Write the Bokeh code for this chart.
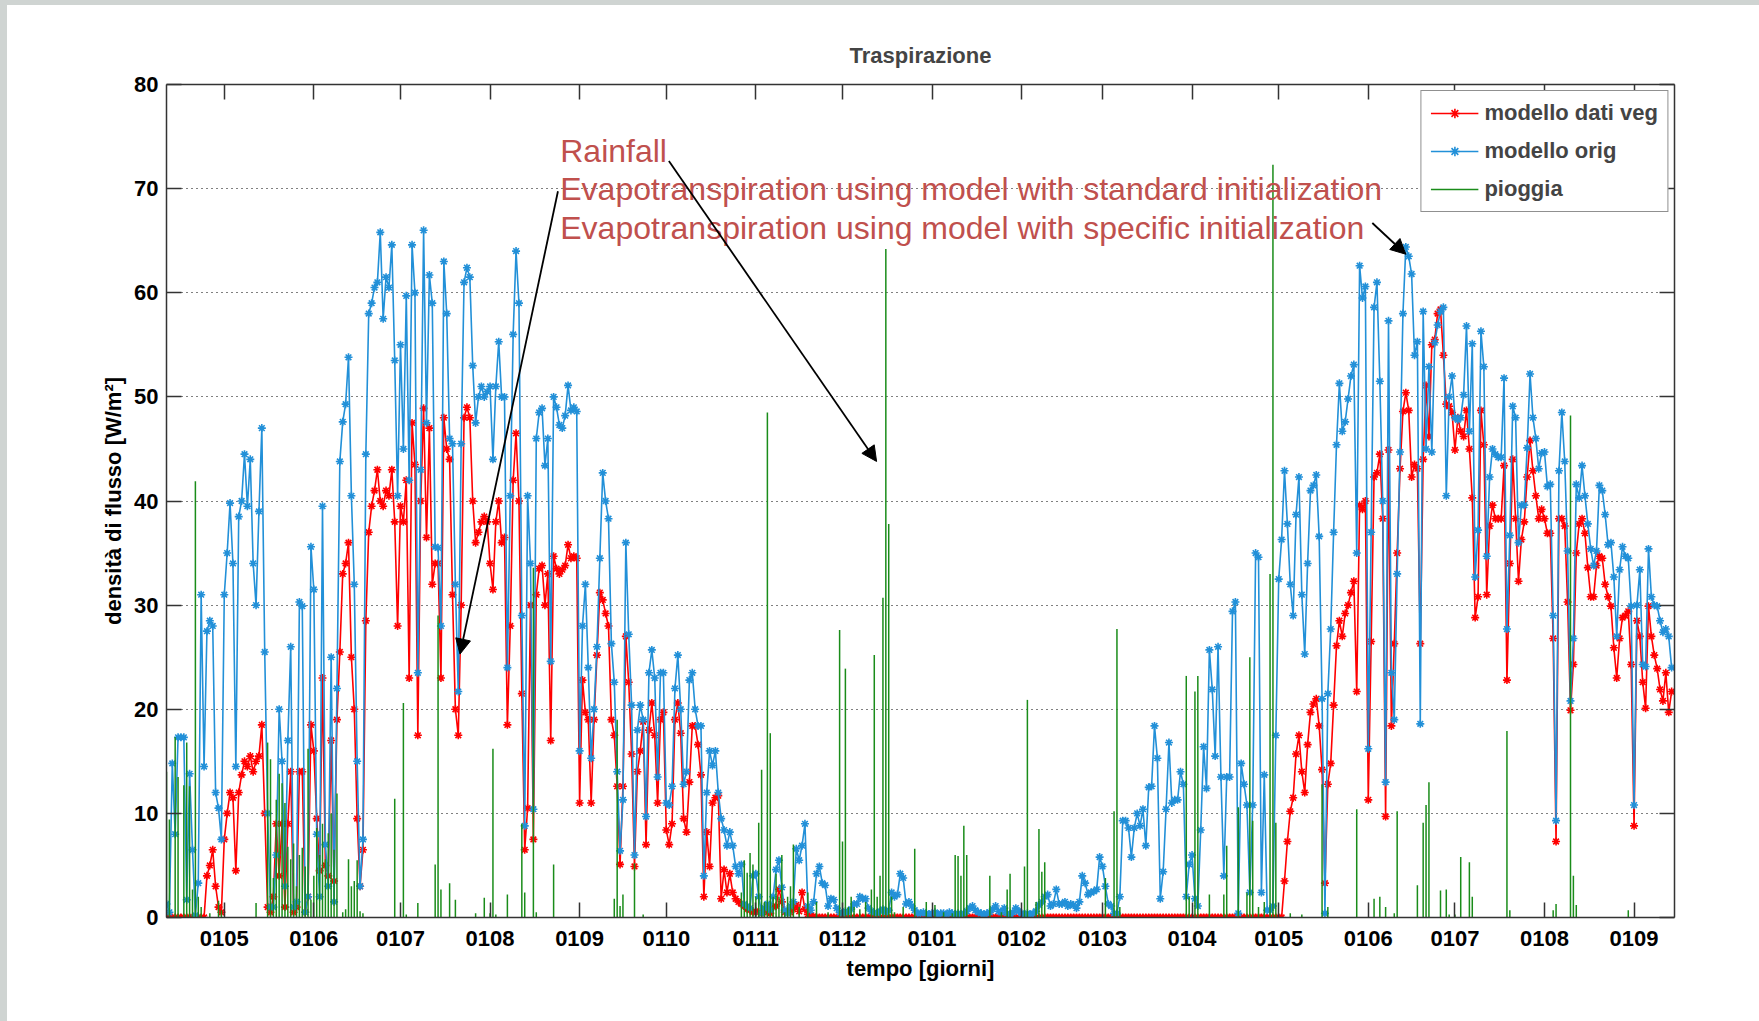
import pandas as pd
from bokeh.plotting import figure
from bokeh.models import (Range1d, MonthsTicker, DatetimeTickFormatter, DatetimeAxis, LinearAxis,
                          SingleIntervalTicker, Label, Arrow, NormalHead, Div, ColumnDataSource)
from bokeh.layouts import column, row
from bokeh.embed import file_html
from bokeh.resources import INLINE

# ---------------- data ----------------
START = "2006-04-11"          # first daily value
N_DAYS_SHOWN = 522            # x-range length in days

TITLE = "Traspirazione"
X_LABEL = "tempo [giorni]"
Y_LABEL = "densità di flusso [W/m²]"
SERIES_NAMES = ["modello dati veg", "modello orig", "pioggia"]
ANNOTATIONS = ["Rainfall",
               "Evapotranspiration using model with standard initialization",
               "Evapotranspiration using model with specific initialization"]

# modello orig (blue), daily
BLUE = [
    1.3, 0.5, 14.8, 8, 17.3, 17.3, 17.3, 1.7, 13.8, 6.5,
    0.2, 3.3, 31, 14.5, 27.5, 28.5, 28, 12, 10.5, 7.5,
    31, 35, 39.8, 34, 14.5, 38.5, 40, 44.5, 39.5, 44,
    34, 30, 39, 47, 25.5, 10, 1, 1, 6, 20,
    15, 3, 17, 26, 1, 1.5, 30.3, 29.9, 0.5, 2,
    35.6, 31.5, 8, 2, 39.5, 7, 3, 25, 1.5, 22,
    43.8, 47.6, 49.3, 53.8, 40.5, 32, 15, 3, 7.5, 44.5,
    58, 59, 60.5, 61, 65.8, 57.5, 61.5, 60.5, 64.6, 53.5,
    40.5, 55, 45, 59.7, 42, 64.6, 60, 23.5, 43, 66,
    47.5, 61.7, 59, 35.6, 35.5, 28, 63, 58, 46, 45.5,
    32, 21.7, 45.5, 61, 62.4, 61.5, 53, 47.5, 50, 51,
    50, 50.5, 51, 44, 51, 55.3, 50, 50, 24, 40.5,
    56, 64, 59, 29, 8.8, 40.5, 34, 10.4, 46, 48.5,
    48.9, 43.4, 46, 24.6, 50, 49, 47.3, 47, 48.2, 51.1,
    48.7, 49, 48.6, 16, 28, 32, 24, 15.3, 20, 26,
    34.5, 42.7, 40, 38.3, 26.3, 22.6, 14, 6.4, 11.3, 36,
    27.2, 20.4, 6, 18, 20.4, 19, 9.7, 23.5, 25.7, 23,
    13.5, 23.5, 23.5, 11, 10.8, 12.6, 22, 25.2, 20, 12.8,
    14, 22.8, 23.5, 20, 18.4, 18.4, 4, 12, 16, 14.6,
    16, 12, 9.5, 8.4, 6.9, 8.2, 6.9, 4.9, 4.2, 5.1,
    1.3, 1.1, 0.9, 4, 4.2, 2, 0.4, 0.9, 1.3, 0.7,
    2, 4.6, 5.5, 2.9, 0.7, 0.4, 1.1, 1.5, 6.6, 5.5,
    6.9, 9, 1.1, 0.7, 1.5, 4.2, 4.9, 3.3, 3.1, 1.1,
    1.8, 1.7, 0.9, 0.5, 0.4, 0.6, 0.5, 0.8, 1.3, 1.3,
    2, 1.8, 1.8, 0.9, 0.6, 0.5, 0.4, 0.6, 0.8, 0.5,
    0.7, 2.4, 2, 2.2, 4.2, 3.8, 1.3, 1.5, 1.1, 0.7,
    0.4, 0.4, 0.5, 0.4, 0.3, 0.4, 0.5, 0.3, 0.4, 0.4,
    0.3, 0.5, 0.4, 0.3, 0.4, 0.3, 0.4, 0.6, 0.9, 1.1,
    0.7, 0.5, 0.4, 0.3, 0.4, 0.5, 0.8, 1.1, 0.6, 0.5,
    0.9, 0.4, 0.3, 0.5, 0.9, 0.6, 0.4, 0.3, 0.4, 0.3,
    0.4, 0.6, 1.2, 1.5, 2, 2.2, 1.1, 1.3, 2.7, 1.3,
    1.3, 1.5, 1.1, 1.3, 1.2, 0.9, 1.5, 4, 3.3, 2.2,
    2.4, 2.5, 2.7, 5.8, 4.9, 3, 1.3, 1.1, 0.4, 0.4,
    2, 9.3, 9.3, 8.6, 5.8, 8.6, 10, 8.8, 10.4, 6.9,
    12.5, 12.6, 18.4, 15.3, 1.8, 4.4, 10.4, 16.8, 11, 11.3,
    11.3, 14, 12.8, 2, 5.1, 6, 1.8, 1.1, 8.4, 16.4,
    12.4, 25.7, 21.9, 15.5, 26, 13.5, 4, 13.5, 13.5, 29.4,
    30.3, 0.4, 14.8, 12.8, 10.8, 2.4, 10.8, 35, 34.6, 2.4,
    13.7, 0.7, 0.7, 1.1, 17.5, 32.5, 36.3, 42.9, 37.8, 32,
    29, 38.7, 42.3, 31, 25.3, 34, 41, 41.5, 42.5, 36.6,
    21, 0.4, 21.5, 27.7, 37, 45.4, 51.3, 46.7, 47.6, 49.8,
    52, 53.1, 35, 62.6, 59.5, 60.6, 16.2, 37, 58.6, 61,
    51.5, 40, 13, 57.3, 23.5, 19, 33, 44.7, 58, 64.4,
    63.5, 61.8, 54, 55.3, 18.6, 58.2, 45, 52.9, 44.7, 55.2,
    56.9, 58.2, 58.6, 40.5, 50, 52, 48, 47.8, 48, 50.2,
    56.8, 46.7, 55.1, 32.7, 37.2, 56.3, 52.9, 34.7, 42.3, 45,
    44.5, 44.2, 44.2, 51.8, 27.7, 36.7, 49.1, 48, 36, 39.6,
    39.6, 45.1, 52.2, 48, 46, 43.1, 44.6, 44.7, 41.4, 41.6,
    29, 9.3, 42.9, 48.5, 43.8, 35.2, 20.8, 26.8, 41.6, 40.3,
    43.4, 40.5, 37.8, 35.4, 33.8, 35.2, 41.5, 41, 38.7, 35.8,
    36, 32.7, 27, 33.4, 35.6, 34.7, 34.5, 29.9, 10.8, 30,
    33.4, 24.3, 24.1, 35.4, 30.8, 30, 29.9, 28.5, 27.4, 27.7,
    27, 24,
]

# modello dati veg (red), daily
RED = [
    0, 0, 0, 0, 0, 0, 0, 0, 0, 0,
    0, 0, 0, 0, 4, 5, 6.5, 3, 1, 0.5,
    7.5, 10, 12, 11.5, 4.5, 12, 13.7, 15, 14.5, 15.5,
    14, 15, 15.5, 18.5, 10, 1, 0.5, 2, 9, 4,
    9, 1, 9, 14, 0.5, 1, 14, 14, 0.5, 2,
    18.5, 16, 9.5, 4.5, 23, 5, 4, 17, 3.5, 19,
    25.5, 33, 34, 36, 25, 20, 9.5, 3, 6.5, 28.5,
    37, 39.5, 41, 43, 40, 39.5, 41, 40.5, 43, 38,
    28, 39.5, 38, 42, 23, 47.5, 43.5, 17.5, 40, 48.9,
    36.5, 47, 32, 34, 34, 23, 48, 45, 44, 31,
    20, 17.5, 30, 48, 49, 48, 40, 36, 37, 38,
    38.5, 38, 34, 31.5, 38, 40, 36, 36.5, 18.5, 28,
    42, 46.5, 40, 21.5, 6.5, 10.5, 30, 7.5, 31, 33.5,
    33.8, 30, 33, 17, 34.7, 33.5, 33, 33.4, 33.8, 35.8,
    34.5, 34.7, 34.5, 11, 22.8, 19.7, 19, 11, 19, 25.2,
    31.2, 30.5, 29.2, 28, 19, 17.5, 12.6, 5.1, 12.6, 27,
    22.6, 15.7, 4.9, 14, 16, 18.8, 7, 18, 20.6, 17.5,
    11, 19, 19.7, 8.4, 7, 9, 19, 20.6, 17.7, 9.5,
    8.2, 13, 18.4, 18.4, 16.6, 13.7, 2, 8.2, 4.9, 11,
    11.5, 11.7, 1.8, 4.6, 2.4, 4.2, 2.4, 1.8, 1.5, 1.3,
    1.1, 0.8, 0.7, 0.5, 0.6, 0.5, 0.4, 0.8, 0.5, 0.4,
    1, 1.1, 2.7, 1.5, 0.5, 0.6, 0.5, 0.8, 1.2, 0.6,
    2.4, 0.8, 0.3, 0.2, 0.1, 0, 0, 0, 0, 0,
    0, 0, 0, 0, 0, 0, 0, 0, 0, 0,
    0, 0, 0, 0, 0, 0, 0, 0, 0, 0,
    0, 0, 0, 0, 0, 0, 0, 0, 0, 0,
    0, 0, 0, 0, 0, 0, 0, 0, 0, 0,
    0, 0, 0, 0, 0, 0, 0, 0, 0, 0,
    0, 0, 0, 0, 0, 0, 0, 0, 0, 0,
    0, 0, 0, 0, 0, 0, 0, 0, 0, 0,
    0, 0, 0, 0, 0, 0, 0, 0, 0, 0,
    0, 0, 0, 0, 0, 0, 0, 0, 0, 0,
    0, 0, 0, 0, 0, 0, 0, 0, 0, 0,
    0, 0, 0, 0, 0, 0, 0, 0, 0, 0,
    0, 0, 0, 0, 0, 0, 0, 0, 0, 0,
    0, 0, 0, 0, 0, 0, 0, 0, 0, 0,
    0, 0, 0, 0, 0, 0, 0, 0, 0, 0,
    0, 0, 0, 0, 0, 0, 0, 0, 0, 0,
    0, 0, 0, 0, 0, 0, 0, 3.5, 7.3, 10.2,
    11.5, 15.7, 17.5, 14, 12, 16.6, 19.7, 20.5, 21, 18.4,
    14.2, 3.3, 12.8, 14.8, 20.4, 26.1, 28.5, 27, 29.2, 30,
    31.2, 32.3, 21.7, 39.6, 39.2, 40, 11.3, 26.5, 42.3, 42.7,
    44.5, 38.3, 9.7, 44.9, 18.4, 26.3, 35, 43.1, 48.6, 50.4,
    48.7, 42.3, 43.5, 43.1, 26.3, 44, 51.1, 46.2, 55, 55.5,
    58, 58.4, 54, 49.3, 49.1, 48.5, 44.9, 48, 46.7, 46.2,
    48.7, 45, 40.3, 28.8, 30.8, 48.7, 45.4, 31, 37.6, 39.6,
    38.3, 38.3, 38.3, 43.4, 22.8, 34, 44, 38.3, 32.3, 36.3,
    38, 42.3, 45.8, 42.9, 40.5, 38.3, 39.2, 38.3, 36.9, 36.9,
    26.8, 7.3, 38.3, 38.3, 37.6, 30.3, 19.9, 24.3, 35, 37.8,
    38.3, 36.9, 33.6, 30.8, 30.8, 33.8, 34.7, 34.5, 32, 30.8,
    29.9, 25.9, 23, 26.8, 28.8, 29, 29.4, 24.3, 8.8, 28.5,
    27, 22.6, 20.1, 29.9, 27, 25.2, 23.9, 21.9, 20.8, 23.5,
    19.7, 21.7,
]

# pioggia (green stems): day offset from START and value
RAIN_DAY = [0, 1, 3, 4, 6, 7, 8, 9, 10, 11, 12, 15, 18, 19, 31, 35, 36, 37, 38, 39,
            40, 41, 42, 43, 44, 45, 46, 47, 48, 49, 50, 51, 52, 53, 54, 55, 56, 57, 58, 59,
            61, 62, 63, 64, 65, 66, 67, 68, 79, 82, 83, 87, 93, 94, 95, 98, 100, 107, 110, 112,
            113, 114, 118, 123, 124, 127, 128, 134, 155, 156, 157, 158, 162, 165, 199, 200, 201, 202, 203, 204,
            205, 206, 207, 208, 209, 210, 211, 212, 213, 214, 215, 216, 217, 219, 222, 225, 229, 233, 234, 235,
            236, 237, 238, 240, 242, 244, 245, 246, 247, 248, 249, 250, 251, 252, 255, 259, 263, 266, 269, 272,
            273, 274, 275, 276, 277, 285, 289, 291, 292, 297, 298, 301, 302, 303, 304, 325, 328, 329, 330, 353,
            354, 356, 357, 361, 366, 367, 371, 374, 375, 376, 378, 380, 382, 383, 384, 389, 393, 400, 402, 412,
            418, 420, 422, 425, 426, 433, 435, 436, 437, 441, 443, 444, 446, 448, 451, 452, 464, 465, 480, 481,
            486, 487, 488, 506]
RAIN_MM = [14, 9.4, 17.3, 13.5, 12.7, 16.8, 12.6, 2.7, 41.9, 2, 1, 0.4, 1.6, 0.7, 1.4, 16.8, 15.2, 3.8, 11.3, 13.8,
           12.9, 11, 6.8, 5.6, 7.1, 3, 6, 6.7, 4.9, 16.2, 1.7, 4, 8.6, 6, 9, 5.6, 8.1, 10, 6.5, 11.9,
           0.5, 0.8, 5.6, 3, 3.5, 5.5, 0.6, 0.4, 11.4, 20.6, 0.3, 1.4, 5.1, 29, 2.7, 3.3, 1.7, 0.4, 1.9, 0.4,
           16.2, 0.3, 2.2, 9, 2.4, 33.6, 0.5, 5.1, 1.8, 19, 1.1, 2.2, 5.2, 0.3, 2.4, 5.5, 4.3, 6.2, 5.1, 2,
           9.1, 14.2, 1.5, 48.5, 17.7, 2, 4.2, 2, 6, 0.5, 2, 3, 7, 1, 2.4, 1.5, 0.5, 27.6, 7.3, 23.9,
           1, 2, 1, 0.8, 1.5, 2.7, 25.2, 2, 4, 30.7, 64.2, 37.8, 2, 0.5, 1, 6.6, 1.5, 1.2, 0.5, 0.4,
           6, 5.9, 4, 8.8, 6, 4, 0.5, 2.7, 4.2, 4.9, 20.9, 1.5, 8.5, 4.4, 5.3, 3.8, 10.2, 27.7, 1, 23.2,
           2, 21.7, 23.2, 2.2, 2.2, 6.9, 10.6, 2.4, 25, 9.3, 1, 1.5, 33, 72.3, 9.1, 0.4, 0.3, 12.8, 1, 10.4,
           1.8, 2, 1, 0.4, 10.2, 3.1, 9.1, 10.8, 13, 2.6, 2.7, 0.3, 0.3, 5.8, 5.3, 2, 17.9, 0.7, 0.7, 1.3,
           48.2, 4, 1.2, 0.7]

# ---------------- helpers ----------------
FONT = "Liberation Sans"
t0 = pd.Timestamp(START)


def xday(d):
    return (t0 + pd.Timedelta(days=d)).timestamp() * 1000.0


dates = pd.date_range(t0, periods=len(BLUE), freq="D")
src = ColumnDataSource(dict(x=dates, red=RED, blue=BLUE))
rain_src = ColumnDataSource(dict(x=[t0 + pd.Timedelta(days=d) for d in RAIN_DAY], y=RAIN_MM))

p = figure(width=1752, height=1016, x_axis_type="datetime",
           x_range=Range1d(t0, t0 + pd.Timedelta(days=N_DAYS_SHOWN)),
           y_range=Range1d(0, 80),
           output_backend="svg", toolbar_location=None,
           min_border_left=159, min_border_right=85, min_border_top=79, min_border_bottom=104)
p.background_fill_color = "white"
p.border_fill_color = "white"
p.outline_line_color = None

RED_C = "#ff0000"
BLUE_C = "#2290d8"
GREEN_C = "#1a8c1a"

p.line("x", "red", source=src, line_color=RED_C, line_width=1.6, legend_label=SERIES_NAMES[0])
p.scatter("x", "red", source=src, marker="asterisk", size=8, line_color=RED_C, line_width=1.6,
          legend_label=SERIES_NAMES[0])
p.line("x", "blue", source=src, line_color=BLUE_C, line_width=1.6, legend_label=SERIES_NAMES[1])
p.scatter("x", "blue", source=src, marker="asterisk", size=8, line_color=BLUE_C, line_width=1.6,
          legend_label=SERIES_NAMES[1])
p.segment(x0="x", y0=0, x1="x", y1="y", source=rain_src, line_color=GREEN_C, line_width=1.5,
          legend_label=SERIES_NAMES[2])

# ---------------- axes ----------------
AX_C = "#333333"
month_ticker = MonthsTicker(months=list(range(1, 13)))
fmt = DatetimeTickFormatter(days="%d%m", months="%d%m", years="%d%m")
yticker = SingleIntervalTicker(interval=10, num_minor_ticks=0)

p.xaxis.ticker = month_ticker
p.xaxis.formatter = fmt
p.yaxis.ticker = yticker


def style_axis(ax):
    ax.major_tick_in = 15
    ax.major_tick_out = 0
    ax.minor_tick_line_color = None
    ax.axis_line_color = AX_C
    ax.axis_line_width = 1.5
    ax.major_tick_line_color = AX_C
    ax.major_tick_line_width = 1.5
    ax.major_label_text_font = FONT
    ax.major_label_text_font_size = "22px"
    ax.major_label_text_font_style = "bold"
    ax.major_label_text_color = "black"
    ax.axis_label_text_font = FONT
    ax.axis_label_text_font_size = "22px"
    ax.axis_label_text_font_style = "bold"
    ax.axis_label_text_color = "black"


style_axis(p.xaxis[0])
style_axis(p.yaxis[0])
p.xaxis.axis_label = X_LABEL
p.yaxis.axis_label = Y_LABEL
p.xaxis.major_label_standoff = 13
p.xaxis.axis_label_standoff = 7
p.yaxis.major_label_standoff = 8
p.yaxis.axis_label_standoff = 5

# mirrored tick marks on top and right (no labels)
top = DatetimeAxis(ticker=MonthsTicker(months=list(range(1, 13))), formatter=fmt)
right = LinearAxis(ticker=SingleIntervalTicker(interval=10, num_minor_ticks=0))
for ax in (top, right):
    style_axis(ax)
    ax.major_label_text_font_size = "0px"
    ax.major_label_text_color = None
    ax.major_label_standoff = 0
p.add_layout(top, "above")
p.add_layout(right, "right")

p.xgrid.visible = False
p.ygrid.ticker = yticker
p.ygrid.grid_line_color = "black"
p.ygrid.grid_line_dash = "1 4"
p.ygrid.grid_line_width = 1

# ---------------- title ----------------
p.title.text = TITLE
p.title.align = "center"
p.title.text_font = FONT
p.title.text_font_size = "22px"
p.title.text_font_style = "bold"
p.title.standoff = 33

# ---------------- legend ----------------
lg = p.legend[0]
lg.location = "top_right"
lg.margin = 6
lg.padding = 9
lg.spacing = 12
lg.glyph_width = 48
lg.glyph_height = 24
lg.label_height = 24
lg.label_standoff = 6
lg.label_text_font = FONT
lg.label_text_font_size = "22px"
lg.label_text_font_style = "bold"
lg.border_line_color = "#222222"
lg.border_line_width = 1.5
lg.background_fill_color = "white"
lg.background_fill_alpha = 1.0

# ---------------- annotations ----------------
ANN_C = "#c0504d"
for txt, yv in zip(ANNOTATIONS, [73.6, 69.93, 66.25]):
    p.add_layout(Label(x=xday(136.3), y=yv, text=txt, text_font=FONT, text_font_size="32px",
                       text_color=ANN_C, text_align="left", text_baseline="alphabetic"))

for (d0, v0, d1, v1) in [(173.9, 72.65, 245.8, 43.8), (135.5, 69.75, 101.6, 25.3), (417.4, 66.7, 429.0, 63.7)]:
    p.add_layout(Arrow(end=NormalHead(size=15, fill_color="black", line_color="black"),
                       x_start=xday(d0), y_start=v0, x_end=xday(d1), y_end=v1,
                       line_color="black", line_width=1.8))

# ---------------- page frame ----------------
BG = "#cfd4d2"
top_strip = Div(text="", width=1759, height=5, margin=0, styles={"background-color": BG})
left_strip = Div(text="", width=7, height=1016, margin=0, styles={"background-color": BG})
layout = column(top_strip, row(left_strip, p, spacing=0, margin=0), spacing=0, margin=0)

open("out.html", "w").write(file_html(layout, INLINE))
